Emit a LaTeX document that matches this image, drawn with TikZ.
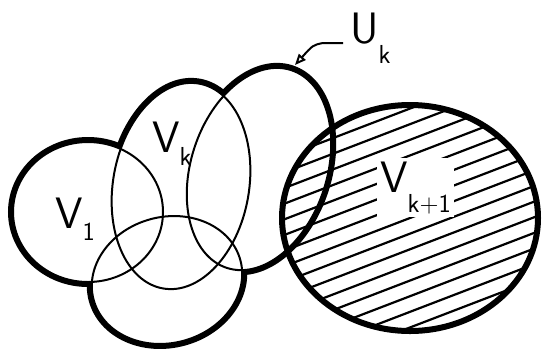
\documentclass[tikz,border=0pt]{standalone}
\usetikzlibrary{arrows.meta}
\tikzset{
  rim/.style    ={line width=10pt},
  thin/.style   ={line width=2pt},
  blank/.style  ={fill=white},
  hatch/.style  ={line width=2.2pt},
  setlbl/.style ={font=\sffamily\fontsize{44}{48}\selectfont,inner sep=0pt,
                  anchor=base west},
  ptr/.style    ={line width=2pt,-{Triangle[open,length=11pt,width=9pt]}},
}
\newcommand{\setsub}[2]{\raisebox{-#1pt}{\fontsize{26}{28}\selectfont #2}}
% the four sets that make up U_k
\newcommand{\ukparts}[1]{%
  \path[#1] (88,212) ellipse [x radius=75,y radius=70];
  \path[#1,rotate around={-10:(181,186)}] (181,186) ellipse [x radius=68,y radius=104];
  \path[#1,rotate around={-18:(259,169)}] (259,169) ellipse [x radius=68,y radius=104];
  \path[#1,rotate around={15:(167,280)}] (167,280) ellipse [x radius=76,y radius=63];}

\begin{document}
\begin{tikzpicture}[x=1pt,y=-1pt]
\useasboundingbox (0,0) rectangle (548,349);
% union: thick rim outside, thin lines inside
\ukparts{draw,rim}
\ukparts{blank}
\ukparts{draw,thin}
% V_{k+1}, hatched
\begin{scope}
  \clip (410,218) ellipse [x radius=128,y radius=113];
  \begin{scope}[shift={(410,218)},rotate=21]
    \foreach \i in {-8,...,8} \draw[hatch] (-160,\i*14.6) -- (160,\i*14.6);
  \end{scope}
\end{scope}
\node[setlbl,fill=white,inner sep=3pt] (vk1) at (377,192) {V\setsub{20}{k+1}};
\draw[line width=6pt] (410,218) ellipse [x radius=128,y radius=113];
% labels
\node[setlbl] (v1) at (55,228) {V\setsub{12}{1}};
\node[setlbl] (vk) at (152,152) {V\setsub{13}{k}};
\node[setlbl] (uk) at (350,43) {U\setsub{20}{k}};
\coordinate (tip) at (295,65);
\draw[ptr] ([xshift=-7pt]uk.base west) -- ++(-20,0) .. controls (313,45) .. (tip);
\end{tikzpicture}
\end{document}
